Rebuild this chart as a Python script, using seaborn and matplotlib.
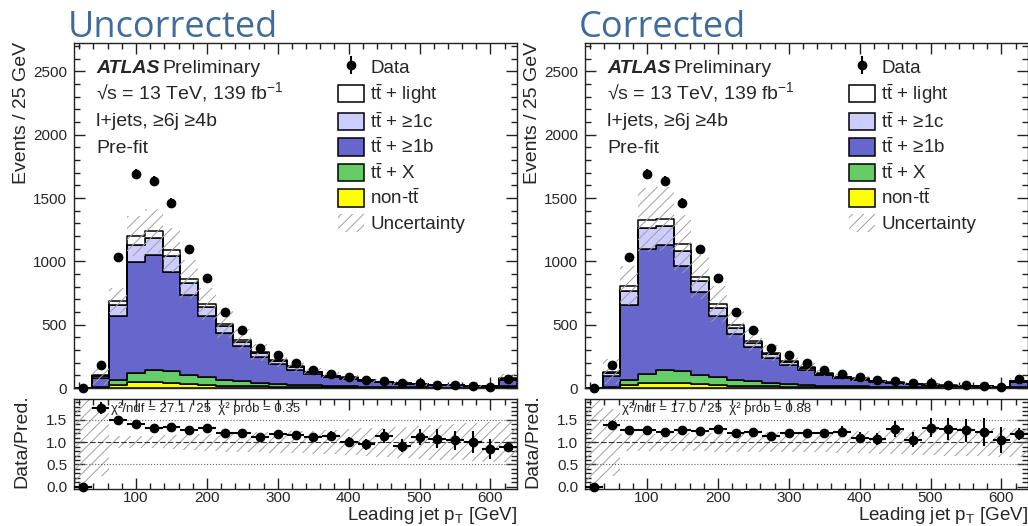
import numpy as np
import pandas as pd
import matplotlib
matplotlib.use("Agg")
import matplotlib.pyplot as plt
import seaborn as sns
from matplotlib.patches import Patch
from matplotlib.ticker import MultipleLocator

# leading jet pT bins (25 GeV wide, last one holds overflow)
bin_centers = [25, 50, 75, 100, 125, 150, 175, 200, 225, 250, 275, 300, 325,
               350, 375, 400, 425, 450, 475, 500, 525, 550, 575, 600, 625]
bin_edges = [c - 12.5 for c in bin_centers] + [bin_centers[-1] + 12.5]

data_events = [0, 179, 1037, 1692, 1636, 1460, 1097, 866, 602, 460, 313, 258, 198,
               142, 111, 84, 63, 58, 37, 37, 26, 24, 16, 11, 69]
data_err = [0, 13, 32, 41, 40, 38, 33, 29, 25, 21, 18, 16, 14,
            12, 11, 9, 8, 8, 6, 6, 5, 5, 4, 3, 8]

# uncorrected prediction
unc_nontt = [0.1, 3, 26, 45, 45, 40, 29, 24, 18, 16, 13, 10, 8, 6, 5, 4, 3, 2.5, 2, 1.5, 1, 1, 0.8, 0.6, 4]
unc_ttx = [0.1, 5, 40, 73, 94, 91, 76, 60, 48, 37, 29, 22, 18, 15, 11, 9, 7, 5.5, 4.5, 3.5, 2.5, 2.5, 1.7, 1.4, 9]
unc_ttb = [0.6, 72, 499, 874, 911, 787, 631, 487, 371, 276, 203, 160, 119, 89, 68, 59, 46, 36, 28, 23.5, 17.5, 16.5, 11.5, 9.4, 54]
unc_ttc = [0.1, 15, 87, 139, 134, 121, 92, 65, 50, 34, 29, 19, 18, 13, 10, 8, 7, 5, 4, 3, 2, 2, 1.4, 1.1, 7]
unc_ttlight = [0.1, 6, 39, 69, 55, 51, 29, 25, 15, 20, 8, 8, 8, 5, 4, 4, 3, 2, 1.5, 1.5, 1, 1, 0.6, 0.5, 3]
unc_rel_err = [1.0, 0.75, 0.14, 0.13, 0.14, 0.16, 0.18, 0.19, 0.21, 0.22, 0.23, 0.24, 0.25,
               0.26, 0.27, 0.29, 0.31, 0.33, 0.35, 0.37, 0.39, 0.41, 0.43, 0.45, 0.45]

# corrected prediction
cor_nontt = [0.1, 3, 24, 40, 40, 38, 28, 23, 18, 15, 12, 10, 8, 6, 4.5, 4, 3, 2.3, 1.8, 1.4, 1, 1, 0.7, 0.5, 3]
cor_ttx = [0.1, 6, 42, 73, 99, 93, 75, 61, 48, 37, 29, 22, 17, 13, 10, 8, 6.5, 5, 4, 3.1, 2.2, 2.1, 1.4, 1.2, 6.5]
cor_ttb = [0.6, 88, 592, 986, 987, 834, 652, 487, 360, 269, 198, 152, 116, 83, 63, 53, 41, 31, 24, 19.5, 14, 13.2, 9, 7.3, 40]
cor_ttc = [0.1, 20, 105, 163, 150, 121, 87, 60, 47, 34, 27, 20, 15, 11, 8.5, 7.5, 6, 4.7, 3.7, 2.8, 2, 1.9, 1.3, 1.1, 6]
cor_ttlight = [0.1, 13, 44, 66, 57, 50, 36, 32, 27, 18, 10, 8, 7, 5, 4, 3.5, 2.5, 2, 1.5, 1.2, 0.8, 0.8, 0.6, 0.4, 2.5]
cor_rel_err = [1.0, 0.75, 0.19, 0.19, 0.19, 0.2, 0.2, 0.21, 0.21, 0.22, 0.22, 0.22, 0.23,
               0.23, 0.24, 0.25, 0.26, 0.27, 0.28, 0.29, 0.3, 0.31, 0.32, 0.33, 0.33]

proc_keys = ["light", "c", "b", "X", "nontt"]   # top -> bottom of the stack
proc_labels = [r"$\mathrm{t\bar{t}}$ + light", r"$\mathrm{t\bar{t}}$ + ≥1c",
               r"$\mathrm{t\bar{t}}$ + ≥1b", r"$\mathrm{t\bar{t}}$ + X", r"non-$\mathrm{t\bar{t}}$"]
proc_colors = {"light": "#ffffff", "c": "#ccccff", "b": "#6666cc", "X": "#66cc66", "nontt": "#ffff00"}

sns.set_style("ticks")
plt.rcParams["font.family"] = ["Liberation Sans", "DejaVu Sans"]
plt.rcParams["mathtext.fontset"] = "custom"
plt.rcParams["mathtext.rm"] = "Liberation Sans"
plt.rcParams["mathtext.it"] = "Liberation Sans:italic"
plt.rcParams["hatch.linewidth"] = 0.7
plt.rcParams["axes.linewidth"] = 1.0
plt.rcParams["axes.edgecolor"] = "#222222"

HATCH = "///"
HATCH_COLOR = "#a0a0a0"


def stepped(vals):
    v = np.asarray(vals, float)
    return np.append(v, v[-1])


def style_axis(ax):
    ax.tick_params(which="both", direction="in", top=True, right=True, labelsize=11,
                   color="#222222")
    ax.tick_params(axis="y", pad=5)
    ax.tick_params(axis="x", pad=1.5)
    ax.tick_params(which="major", length=8, width=1)
    ax.tick_params(which="minor", length=4, width=1)
    ax.xaxis.set_major_locator(MultipleLocator(100))
    ax.xaxis.set_minor_locator(MultipleLocator(20))
    ax.set_xlim(bin_edges[0], bin_edges[-1])


def draw_panel(fig, x0, comps, rel_err, chi2_text, title):
    w = 443 / 1028
    ax = fig.add_axes([x0, 1 - 388 / 526, w, 345 / 526])
    rax = fig.add_axes([x0, 1 - 489 / 526, w, 90 / 526])

    rows = []
    for key, vals in zip(proc_keys, comps):
        for c, v in zip(bin_centers, vals):
            rows.append({"pt": c, "events": v, "process": key})
    df = pd.DataFrame(rows)

    sns.histplot(data=df, x="pt", weights="events", hue="process", hue_order=proc_keys,
                 multiple="stack", bins=bin_edges, element="step", fill=True,
                 palette=proc_colors, alpha=1, edgecolor="black", linewidth=1.1,
                 legend=False, ax=ax)

    total = np.sum(np.array(comps, float), axis=0)
    rel = np.asarray(rel_err, float)
    ax.fill_between(bin_edges, stepped(total * (1 - rel)), stepped(total * (1 + rel)),
                    step="post", facecolor="none", edgecolor=HATCH_COLOR, hatch=HATCH,
                    linewidth=0, zorder=3)
    dat = ax.errorbar(bin_centers, data_events, yerr=data_err, fmt="o", color="black",
                      ms=6, elinewidth=1.5, capsize=0, zorder=5, clip_on=False)

    style_axis(ax)
    ax.set_ylim(0, 2725)
    ax.yaxis.set_major_locator(MultipleLocator(500))
    ax.yaxis.set_minor_locator(MultipleLocator(100))
    ax.set_xlabel("")
    ax.set_ylabel("")
    ax.tick_params(labelbottom=False)

    # labels
    ax.text(0.05, 0.913, "ATLAS", transform=ax.transAxes, fontsize=14,
            fontweight="bold", fontstyle="italic")
    ax.text(0.199, 0.913, "Preliminary", transform=ax.transAxes, fontsize=14)
    ax.text(0.05, 0.838, r"√s = 13 TeV, 139 fb$^{-1}$", transform=ax.transAxes, fontsize=14)
    ax.text(0.05, 0.759, "l+jets, ≥6j ≥4b", transform=ax.transAxes, fontsize=14)
    ax.text(0.05, 0.681, "Pre-fit", transform=ax.transAxes, fontsize=14)

    handles = [dat] + [Patch(facecolor=proc_colors[k], edgecolor="black", linewidth=1.1)
                       for k in proc_keys]
    handles.append(Patch(facecolor="none", edgecolor=HATCH_COLOR, hatch=HATCH, linewidth=0))
    labels = ["Data"] + proc_labels + ["Uncertainty"]
    ax.legend(handles, labels, loc="upper left", bbox_to_anchor=(0.597, 0.958),
              frameon=False, fontsize=13.5, handlelength=1.35, handleheight=1.05,
              labelspacing=0.32, handletextpad=0.35, borderpad=0, borderaxespad=0)

    # ratio panel
    ratio = np.array(data_events, float) / total
    ratio_err = np.array(data_err, float) / total
    rax.fill_between(bin_edges, stepped(1 - rel), stepped(1 + rel), step="post",
                     facecolor="none", edgecolor=HATCH_COLOR, hatch=HATCH, linewidth=0,
                     zorder=1)
    for yv, ls in [(0.5, ":"), (1.0, (0, (5, 2))), (1.5, ":")]:
        rax.axhline(yv, color="#333333" if yv == 1.0 else "#666666", lw=0.8, ls=ls, zorder=2)
    rax.errorbar(bin_centers, ratio, xerr=12.5, yerr=ratio_err, fmt="o", color="black",
                 ms=6, elinewidth=1.5, capsize=0, zorder=5, clip_on=False)
    style_axis(rax)
    rax.set_ylim(-0.05, 1.97)
    rax.yaxis.set_minor_locator(MultipleLocator(0.1))
    rax.set_yticks([0.0, 0.5, 1.0, 1.5])
    rax.yaxis.set_major_formatter(matplotlib.ticker.FormatStrFormatter("%.1f"))
    rax.set_xlabel(r"Leading jet p$_\mathrm{T}$ [GeV]", loc="right", fontsize=13.5,
                   labelpad=0)
    rax.text(0.083, 0.89, chi2_text, transform=rax.transAxes, fontsize=9.5, va="center",
             zorder=6)

    fig.text(x0 - 52 / 1028, 1 - 42 / 526, "Events / 25 GeV", rotation=90, ha="center",
             va="top", fontsize=14)
    fig.text(x0 - 52 / 1028, 1 - 441 / 526, "Data/Pred.", rotation=90, ha="center",
             va="center", fontsize=14)
    fig.text(x0 - 6 / 1028, 1 - 37 / 526, title, fontsize=26, color="#3f6c9f",
             family="Open Sans", va="baseline")


fig = plt.figure(figsize=(10.28, 5.26), dpi=100)
draw_panel(fig, 74 / 1028,
           [unc_ttlight, unc_ttc, unc_ttb, unc_ttx, unc_nontt], unc_rel_err,
           "χ²/ndf = 27.1 / 25  χ² prob = 0.35", "Uncorrected")
draw_panel(fig, 585 / 1028,
           [cor_ttlight, cor_ttc, cor_ttb, cor_ttx, cor_nontt], cor_rel_err,
           "χ²/ndf = 17.0 / 25  χ² prob = 0.88", "Corrected")

fig.savefig("out.png", dpi=100)
